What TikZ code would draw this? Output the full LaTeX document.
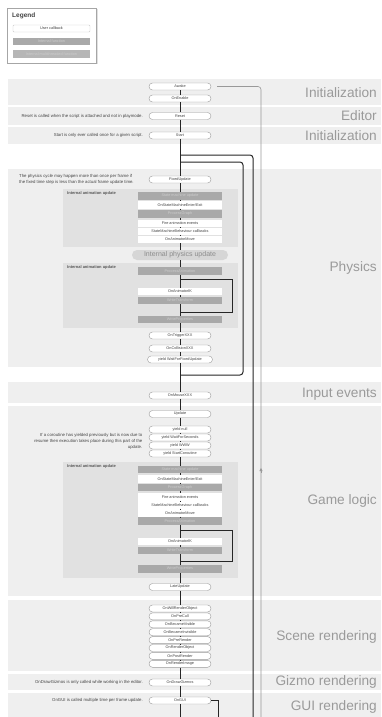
\documentclass[tikz,border=0pt]{standalone}
\usepackage{fontspec}
\setmainfont{Liberation Sans}
\usetikzlibrary{arrows.meta}
\definecolor{bandc}{HTML}{EFEFEF}
\definecolor{boxc}{HTML}{E1E1E1}
\definecolor{darkc}{HTML}{A9A9A9}
\definecolor{nodeb}{HTML}{9A9A9A}
\definecolor{txt}{HTML}{444444}
\definecolor{lbl}{HTML}{9A9A9A}
\definecolor{ipuc}{HTML}{D6D6D6}
\begin{document}
\begin{tikzpicture}[x=1pt,y=-1pt,
  band/.style={fill=bandc,draw=none},
  animbox/.style={fill=boxc,draw=none},
  cb/.style={draw=nodeb,fill=white,rounded corners=3.5pt,minimum width=62pt,minimum height=7pt,inner sep=0pt,line width=0.4pt,font=\fontsize{3.8}{4}\selectfont,text=txt},
  ufn/.style={draw=none,fill=white,minimum width=84pt,minimum height=7.5pt,inner sep=0pt,font=\fontsize{3.8}{4}\selectfont,text=txt},
  ifn/.style={draw=none,fill=darkc,minimum width=84pt,minimum height=7.5pt,inner sep=0pt,font=\fontsize{3.8}{4}\selectfont,text=white!80!black},
  sect/.style={anchor=east,inner sep=0pt,font=\fontsize{13.7}{14}\selectfont,text=lbl},
  note/.style={inner sep=0pt,font=\fontsize{4.3}{6}\selectfont,text=txt},
  animlbl/.style={anchor=west,inner sep=0pt,font=\fontsize{4}{5}\selectfont\bfseries,text=txt!90!white},
  mainline/.style={draw=black!85,line width=1pt},
  loopline/.style={draw=black!85,line width=1pt},
  grayline/.style={draw=black!40,line width=0.6pt}]
\useasboundingbox (0,0) rectangle (381,717);
\fill[white] (0,0) rectangle (381,717);
% legend
\fill[black!12] (8.5,9.5) rectangle (97.5,64.5);
\draw[draw=black!35,fill=white,line width=0.8pt] (7,8) rectangle (96,63);
\node[anchor=west,inner sep=0pt,font=\fontsize{6.5}{7}\selectfont\bfseries,text=txt] (legt) at (12,15.5) {Legend};
\node[cb,rounded corners=1pt,draw=black!20,minimum width=77pt] (leg1) at (51.5,28.5) {User callback};
\node[ifn,minimum width=77pt] (leg2) at (51.5,41.5) {Internal function};
\node[ifn,minimum width=77pt,fill=darkc!85!white] (leg3) at (51.5,54) {Internal multithreaded function};
% bands
\fill[band] (8,79) rectangle (381,105);
\fill[band] (8,107) rectangle (381,124.5);
\fill[band] (8,127) rectangle (381,144);
\fill[band] (8,169) rectangle (381,367);
\fill[band] (8,382) rectangle (381,403);
\fill[band] (8,406) rectangle (381,596);
\fill[band] (8,600) rectangle (381,671);
\fill[band] (8,673.5) rectangle (381,689.5);
\fill[band] (8,693) rectangle (381,717);
% section labels
\node[sect] (s1) at (377,93) {Initialization};
\node[sect] (s2) at (377,116) {Editor};
\node[sect] (s3) at (377,136) {Initialization};
\node[sect] (s4) at (377,268) {Physics};
\node[sect] (s5) at (377,394) {Input events};
\node[sect] (s6) at (377,501) {Game logic};
\node[sect] (s7) at (377,637) {Scene rendering};
\node[sect] (s8) at (377,681.5) {Gizmo rendering};
\node[sect] (s9) at (377,707) {GUI rendering};
% notes
\node[note,anchor=east] (n1) at (143,116) {Reset is called when the script is attached and not in playmode.};
\node[note,anchor=east] (n2) at (143,135.5) {Start is only ever called once for a given script.};
\node[note,anchor=west,align=left] (n3) at (19,179) {The physics cycle may happen more than once per frame if\\the fixed time step is less than the actual frame update time.};
\node[note,anchor=east,align=right] (n4) at (142.5,441) {If a coroutine has yielded previously but is now due to\\resume then execution takes place during this part of the\\update.};
\node[note,anchor=east] (n5) at (143,682.5) {OnDrawGizmos is only called while working in the editor.};
\node[note,anchor=east] (n6) at (143,700.5) {OnGUI is called multiple time per frame update.};
% animation boxes
\fill[animbox] (63,189) rectangle (238,247);
\fill[animbox] (63,263) rectangle (238,328);
\fill[animbox] (63,462) rectangle (238,578);
\node[animlbl] (a1) at (67,193.5) {Internal animation update};
\node[animlbl] (a2) at (67,267.5) {Internal animation update};
\node[animlbl] (a3) at (67,466.5) {Internal animation update};
% nodes
\node[cb] (awake) at (180,86.5) {Awake};
\node[cb] (onenable) at (180,98.5) {OnEnable};
\node[cb] (reset) at (180,116) {Reset};
\node[cb] (start) at (180,135.5) {Start};
\node[cb] (fixed) at (180,179.5) {FixedUpdate};
\node[ifn] (smu1) at (180,196) {State machine update};
\node[ufn] (ose1) at (180,205) {OnStateMachineEnter/Exit};
\node[ifn] (pg1) at (180,214) {ProcessGraph};
\node[ufn] (fae1) at (180,223.5) {Fire animation events};
\node[ufn] (smb1) at (180,231.5) {StateMachineBehaviour callbacks};
\node[ufn] (oam1) at (180,239.5) {OnAnimatorMove};
\node[draw=none,fill=ipuc,rounded corners=5pt,minimum width=96pt,minimum height=10pt,inner sep=0pt,font=\fontsize{7}{8}\selectfont,text=black!45] (ipu) at (180,255) {Internal physics update};
\node[ifn] (pa2) at (180,271) {ProcessAnimation};
\node[ufn] (ik2) at (180,291.5) {OnAnimatorIK};
\node[ifn] (wt2) at (180,300.5) {WriteTransform};
\node[ifn] (wp2) at (180,319.5) {WriteProperties};
\node[cb] (trig) at (180,335.5) {OnTriggerXXX};
\node[cb] (coll) at (180,348.5) {OnCollisionXXX};
\node[cb,minimum width=65pt] (wffu) at (180,359.5) {yield WaitForFixedUpdate};
\node[cb] (mouse) at (180,395.5) {OnMouseXXX};
\node[cb] (update) at (180,414) {Update};
\node[cb] (ynull) at (180,429.5) {yield null};
\node[cb] (ywfs) at (180,437.5) {yield WaitForSeconds};
\node[cb] (ywww) at (180,445.5) {yield WWW};
\node[cb] (ysc) at (180,453.5) {yield StartCoroutine};
\node[ifn] (smu3) at (180,469.5) {State machine update};
\node[ufn] (ose3) at (180,479) {OnStateMachineEnter/Exit};
\node[ifn] (pg3) at (180,487.5) {ProcessGraph};
\node[ufn] (fae3) at (180,497) {Fire animation events};
\node[ufn] (smb3) at (180,505) {StateMachineBehaviour callbacks};
\node[ufn] (oam3) at (180,513) {OnAnimatorMove};
\node[ifn] (pa3) at (180,521) {ProcessAnimation};
\node[ufn] (ik3) at (180,541.5) {OnAnimatorIK};
\node[ifn] (wt3) at (180,550.5) {WriteTransform};
\node[ifn] (wp3) at (180,569) {WriteProperties};
\node[cb] (late) at (180,587) {LateUpdate};
\node[cb] (owro) at (180,608.5) {OnWillRenderObject};
\node[cb] (opc) at (180,616.4) {OnPreCull};
\node[cb] (obv) at (180,624.3) {OnBecameVisible};
\node[cb] (obi) at (180,632.2) {OnBecameInvisible};
\node[cb] (opr) at (180,640.1) {OnPreRender};
\node[cb] (oro) at (180,648) {OnRenderObject};
\node[cb] (opst) at (180,655.9) {OnPostRender};
\node[cb] (ori) at (180,663.8) {OnRenderImage};
\node[cb] (gizmos) at (180,682.5) {OnDrawGizmos};
\node[cb] (gui) at (180,700.5) {OnGUI};
% coordinates
\coordinate (bot) at (180,717);
\coordinate (fl1) at (180,155);
\coordinate (fl2) at (253,155);
\coordinate (fl3) at (253,717);
\coordinate (pl1) at (180,162);
\coordinate (pl2) at (243,162);
\coordinate (pl3) at (243,375);
\coordinate (pl4) at (180,375);
\coordinate (aw1) at (217,86.5);
\coordinate (aw2) at (261,86.5);
\coordinate (aw3) at (261,717);
\coordinate (awa1) at (261,473);
\coordinate (awa2) at (261,468);
\coordinate (ika1) at (180,279);
\coordinate (ika2) at (232,279);
\coordinate (ika3) at (232,312);
\coordinate (ika4) at (180,312);
\coordinate (ikb1) at (180,530);
\coordinate (ikb2) at (232,530);
\coordinate (ikb3) at (232,561);
\coordinate (ikb4) at (180,561);
\coordinate (gu1) at (218,700.5);
\coordinate (gu2) at (218,717);
% connectors
\draw[mainline] (awake) -- (onenable) -- (reset) -- (start) -- (fixed) -- (smu1) -- (ose1) -- (pg1) -- (fae1) -- (smb1) -- (oam1) -- (ipu) -- (pa2) -- (ik2) -- (wt2) -- (wp2) -- (trig) -- (coll) -- (wffu) -- (mouse) -- (update) -- (ynull) -- (ywfs) -- (ywww) -- (ysc) -- (smu3) -- (ose3) -- (pg3) -- (fae3) -- (smb3) -- (oam3) -- (pa3) -- (ik3) -- (wt3) -- (wp3) -- (late) -- (owro) -- (opc) -- (obv) -- (obi) -- (opr) -- (oro) -- (opst) -- (ori) -- (gizmos) -- (gui) -- (bot);
\draw[loopline,rounded corners=3pt] (fl1) -- (fl2) -- (fl3);
\draw[loopline,rounded corners=3pt] (pl4) -- (pl3) -- (pl2) -- (pl1);
\draw[grayline,rounded corners=3pt] (aw1) -- (aw2) -- (aw3);
\draw[grayline,-{Triangle[length=3pt,width=3pt]}] (awa1) -- (awa2);
\draw[loopline] (ika1) -- (ika2) -- (ika3) -- (ika4);
\draw[loopline] (ikb1) -- (ikb2) -- (ikb3) -- (ikb4);
\draw[loopline] (gui.east) -- (gu1) -- (gu2);
\end{tikzpicture}
\end{document}
